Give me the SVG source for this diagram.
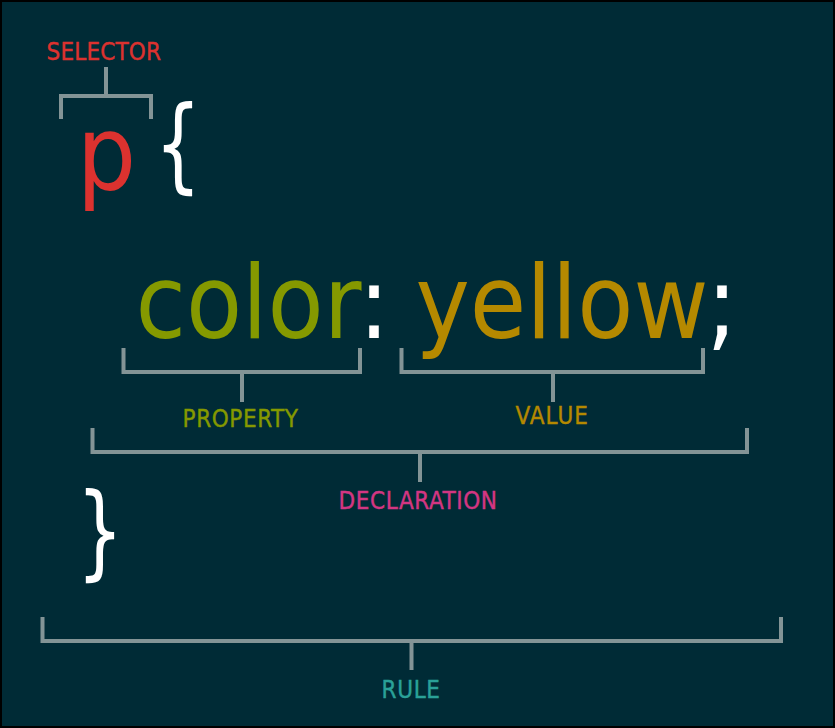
<svg xmlns="http://www.w3.org/2000/svg" width="835" height="728" viewBox="0 0 835 728">
<style>
.code{font-family:"DejaVu Sans Condensed","DejaVu Sans",sans-serif;font-stretch:condensed;text-anchor:middle}
.lbl{font-family:"DejaVu Sans Condensed","DejaVu Sans",sans-serif;font-stretch:condensed;font-size:24px;text-anchor:middle;letter-spacing:1.5px;stroke-width:0.4px}
.br{fill:none;stroke:#839496;stroke-width:4}
</style>
<rect x="1" y="1" width="833" height="726" fill="#002b36" stroke="#000" stroke-width="2"/>
<g id="connectors">
<path class="br" d="M61 119V96H151V119M106 96V67"/>
<path class="br" d="M123.5 348V372H360V348M242 372V402"/>
<path class="br" d="M401.5 348V372H703V348M553 372V402"/>
<path class="br" d="M92.5 428V452H747V428M420 452V482"/>
<path class="br" d="M42.5 617V641H781V617M411.5 641V670"/>
</g>
<g id="selector"><text class="lbl" x="104.5" y="60" fill="#dc322f" stroke="#dc322f" textLength="116" lengthAdjust="spacing">SELECTOR</text></g>
<g id="p"><text class="code" x="106.5" y="189" font-size="104" fill="#dc322f">p</text></g>
<g id="open-brace"><text class="code" font-size="104" fill="#ffffff" transform="translate(178 180) scale(0.78 1)" x="0" y="0">{</text></g>
<g id="property-code"><text class="code" x="248.5" y="338" font-size="102" fill="#859900">color</text></g>
<g id="colon"><text class="code" x="374" y="338" font-size="102" fill="#ffffff">:</text></g>
<g id="value-code"><text class="code" x="562" y="338" font-size="102" fill="#b58900">yellow</text></g>
<g id="semicolon"><text class="code" x="722" y="338" font-size="102" fill="#ffffff">;</text></g>
<g id="close-brace"><text class="code" font-size="104" fill="#ffffff" transform="translate(100 567) scale(0.78 1)" x="0" y="0">}</text></g>
<g id="property"><text class="lbl" x="241" y="427" fill="#859900" stroke="#859900" textLength="117" lengthAdjust="spacing">PROPERTY</text></g>
<g id="value"><text class="lbl" x="552.5" y="424" fill="#b58900" stroke="#b58900" textLength="74" lengthAdjust="spacing">VALUE</text></g>
<g id="declaration"><text class="lbl" x="418.5" y="509" fill="#d33682" stroke="#d33682" textLength="160" lengthAdjust="spacing">DECLARATION</text></g>
<g id="rule"><text class="lbl" x="411.5" y="698" fill="#2aa198" stroke="#2aa198" textLength="60" lengthAdjust="spacing">RULE</text></g>
</svg>
